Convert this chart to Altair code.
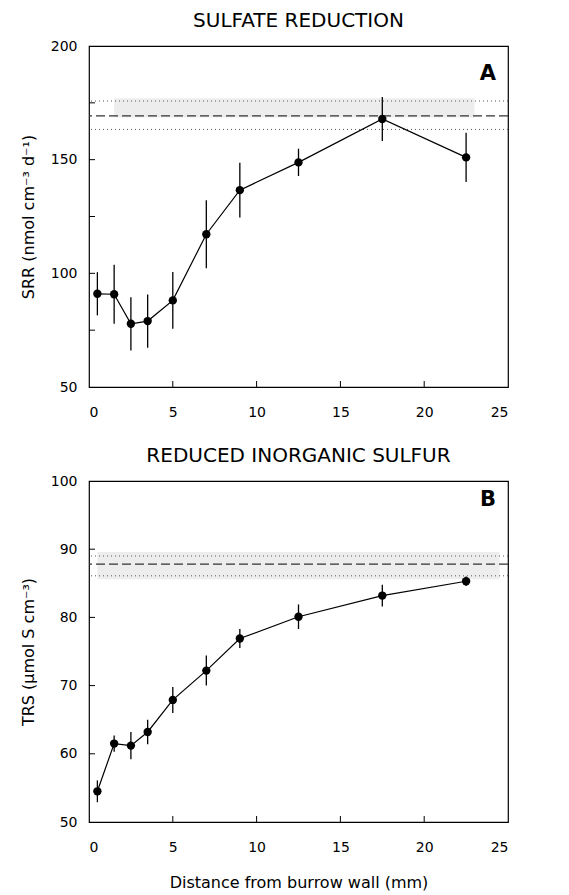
import altair as alt
import pandas as pd

# ---- data ----
dist = [0.5, 1.5, 2.5, 3.5, 5, 7, 9, 12.5, 17.5, 22.5]
srr = [91.0, 90.8, 77.8, 79.0, 88.1, 117.2, 136.6, 148.8, 167.9, 151.0]
srr_err = [9.5, 13.0, 11.7, 11.7, 12.5, 15.0, 12.0, 6.0, 9.7, 10.8]
trs = [54.5, 61.5, 61.2, 63.2, 67.9, 72.2, 76.9, 80.1, 83.2, 85.3]
trs_err = [1.6, 1.2, 2.0, 1.8, 1.9, 2.2, 1.4, 1.8, 1.6, 0.7]

srr_ref = [169.3]
srr_ref_lo = [163.3]
srr_ref_hi = [175.8]
trs_ref = [87.8]
trs_ref_lo = [86.1]
trs_ref_hi = [89.0]

srr_band = {"x": [1.5], "x2": [23.0], "y": [168.5], "y2": [177.0]}
trs_band = {"x": [0.5], "x2": [24.5], "y": [85.6], "y2": [89.6]}

x_ticks = [5, 10, 15, 20]
srr_yticks = [75, 100, 125, 150, 175]
trs_yticks = [60, 70, 80, 90]
x_labels = [0, 5, 10, 15, 20, 25]

W, H = 419, 341
FONT = "DejaVu Sans"


def panel(vals, errs, ref, lo, hi, band, yticks, ydomain, ylabels, ytitle,
          title, letter, letter_xy, show_xtitle):
    df = pd.DataFrame({"d": dist, "v": vals,
                       "lo": [v - e for v, e in zip(vals, errs)],
                       "hi": [v + e for v, e in zip(vals, errs)]})
    xs = alt.Scale(domain=[0, 25], nice=False)
    ys = alt.Scale(domain=ydomain, nice=False)
    xaxis = alt.Axis(values=x_labels, ticks=False, grid=False, labelPadding=18,
                     title="Distance from burrow wall (mm)" if show_xtitle else None,
                     titlePadding=20)
    yaxis = alt.Axis(values=ylabels, ticks=False, grid=False, labelPadding=12,
                     title=ytitle, titlePadding=14)

    bdf = pd.DataFrame(band)
    band_l = alt.Chart(bdf).mark_rect(color="#e9e9e9", opacity=0.8).encode(
        x=alt.X("x:Q", scale=xs, axis=xaxis),
        x2="x2:Q",
        y=alt.Y("y:Q", scale=ys, axis=yaxis),
        y2="y2:Q",
    )
    ref_df = pd.DataFrame({"r": ref})
    dash = alt.Chart(ref_df).mark_rule(color="#333333", strokeDash=[9, 4],
                                       strokeWidth=1.3).encode(y=alt.Y("r:Q", scale=ys))
    lohi_df = pd.DataFrame({"r": lo + hi})
    dots = alt.Chart(lohi_df).mark_rule(color="#555555", strokeDash=[1, 3],
                                        strokeWidth=1).encode(y=alt.Y("r:Q", scale=ys))

    base = alt.Chart(df)
    err = base.mark_rule(color="black", strokeWidth=1.3).encode(
        x=alt.X("d:Q", scale=xs), y=alt.Y("lo:Q", scale=ys), y2="hi:Q")
    line = base.mark_line(color="black", strokeWidth=1.2).encode(
        x=alt.X("d:Q", scale=xs), y=alt.Y("v:Q", scale=ys))
    pts = base.mark_point(filled=True, color="black", size=70, opacity=1).encode(
        x=alt.X("d:Q", scale=xs), y=alt.Y("v:Q", scale=ys))

    ytk = alt.Chart(pd.DataFrame({"t": yticks})).mark_rule(
        color="black", strokeWidth=1).encode(
        y=alt.Y("t:Q", scale=ys), x=alt.value(0), x2=alt.value(6))
    xtk = alt.Chart(pd.DataFrame({"t": x_ticks})).mark_rule(
        color="black", strokeWidth=1).encode(
        x=alt.X("t:Q", scale=xs), y=alt.value(H), y2=alt.value(H - 6))

    lt = alt.Chart(pd.DataFrame({"x": [letter_xy[0]], "y": [letter_xy[1]], "t": [letter]})
                   ).mark_text(font=FONT, fontSize=21, fontWeight="bold",
                               color="black").encode(
        x=alt.X("x:Q", scale=xs), y=alt.Y("y:Q", scale=ys), text="t:N")

    return alt.layer(band_l, dots, dash, err, line, pts, ytk, xtk, lt).properties(
        width=W, height=H,
        title=alt.TitleParams(title, font=FONT, fontSize=20, fontWeight="normal",
                              anchor="middle", offset=8, color="black"))


a = panel(srr, srr_err, srr_ref, srr_ref_lo, srr_ref_hi, srr_band, srr_yticks,
          [50, 200], [50, 100, 150, 200], "SRR (nmol cm⁻³ d⁻¹)",
          "SULFATE REDUCTION", "A", (23.8, 187.5), False)
b = panel(trs, trs_err, trs_ref, trs_ref_lo, trs_ref_hi, trs_band, trs_yticks,
          [50, 100], [50, 60, 70, 80, 90, 100], "TRS (µmol S cm⁻³)",
          "REDUCED INORGANIC SULFUR", "B", (23.8, 97.2), True)

chart = alt.vconcat(a, b, spacing=25).properties(
    background="white",
    padding={"left": 11, "top": 2, "right": 5, "bottom": 2}
).configure_view(stroke="black", strokeWidth=1.2).configure_axis(
    domain=False, labelFont=FONT, labelFontSize=14, labelColor="black",
    titleFont=FONT, titleFontSize=16, titleFontWeight="normal", titleColor="black"
)

chart.save("out.html", embed_options={"renderer": "svg", "actions": False})
